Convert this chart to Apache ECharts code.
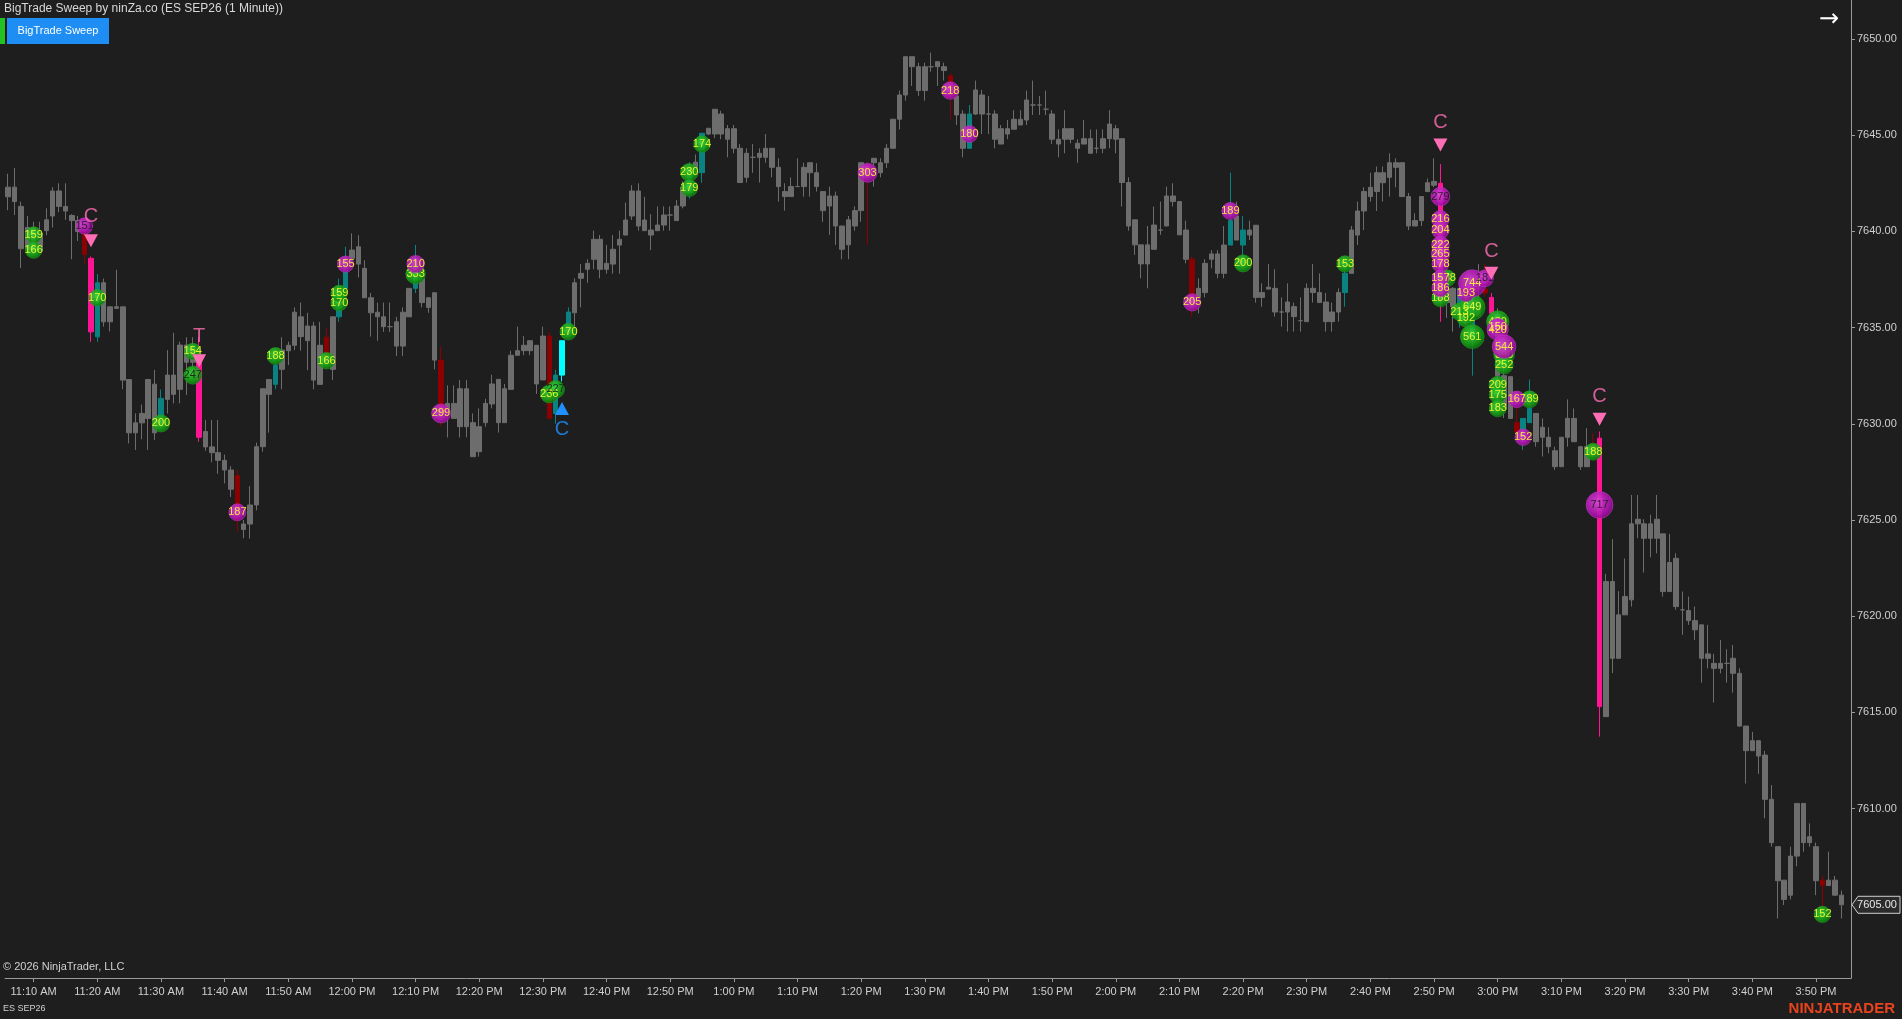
<!DOCTYPE html>
<html><head><meta charset="utf-8">
<script src="https://cdn.jsdelivr.net/npm/echarts@6.0.0/dist/echarts.min.js"></script>
<style>html,body{margin:0;padding:0;background:#1e1e1e;overflow:hidden}#c{width:1902px;height:1019px}</style>
</head><body><div id="c"></div>
<script>
// ---------- DATA ----------
const title = 'BigTrade Sweep by ninZa.co (ES SEP26 (1 Minute))';
const firstBarMinute = 11 * 60 + 6; // 11:06 AM, one bar per minute
const priceTicks = [7605, 7610, 7615, 7620, 7625, 7630, 7635, 7640, 7645, 7650];
const lastPrice = 7605.00;
// [open, high, low, close]
const ohlc = [
[7641.8,7643.0,7641.1,7642.3],[7642.3,7643.3,7640.85,7641.55],[7641.3,7641.55,7638.1,7639.1],[7639.1,7640.8,7638.9,7640.2],[7640.2,7640.5,7638.8,7639.0],
[7639.0,7640.5,7638.9,7639.9],[7640.04,7641.2,7639.8,7640.6],[7640.8,7642.3,7640.2,7642.1],[7642.1,7642.5,7641.0,7641.3],[7641.3,7642.5,7640.6,7641.06],
[7640.83,7640.9,7638.55,7640.56],[7640.56,7640.8,7639.5,7640.0],[7639.9,7640.3,7638.3,7638.8],[7638.6,7638.7,7634.26,7634.78],[7634.52,7637.78,7634.26,7637.33],
[7637.33,7637.55,7635.05,7635.3],[7635.3,7636.08,7634.8,7636.08],[7636.08,7638.0,7636.0,7636.0],[7636.08,7636.08,7631.8,7632.27],[7632.3,7632.3,7628.98,7629.53],
[7629.53,7630.54,7628.64,7630.05],[7630.05,7631.0,7629.2,7630.54],[7630.28,7632.3,7628.64,7632.3],[7632.06,7632.8,7629.16,7629.53],[7630.37,7631.78,7629.85,7631.32],
[7631.27,7633.83,7630.54,7632.53],[7632.53,7634.73,7631.06,7631.53],[7631.79,7634.27,7631.06,7634.09],[7634.09,7634.5,7631.5,7633.2],[7633.2,7634.5,7632.5,7633.6],
[7633.48,7634.52,7629.07,7629.3],[7629.6,7630.2,7628.6,7628.8],[7628.8,7630.2,7628.0,7628.5],[7628.5,7630.2,7627.4,7628.1],[7628.1,7628.4,7626.9,7627.6],
[7627.6,7627.8,7626.2,7626.6],[7627.3,7627.6,7624.4,7625.0],[7624.79,7625.0,7624.05,7624.51],[7624.79,7626.76,7624.04,7625.78],[7625.78,7629.02,7625.5,7628.81],
[7628.81,7631.82,7628.55,7631.82],[7631.53,7632.3,7629.54,7632.3],[7632.05,7633.2,7631.8,7633.05],[7632.83,7634.5,7631.8,7633.83],[7633.8,7634.27,7633.05,7634.08],
[7634.08,7636.05,7633.83,7635.8],[7635.56,7636.3,7633.8,7634.53],[7634.32,7635.77,7632.79,7635.08],[7635.08,7635.3,7631.79,7632.27],[7632.05,7635.3,7632.05,7634.08],
[7634.5,7635.0,7633.0,7633.3],[7632.83,7635.56,7632.27,7635.56],[7635.56,7637.54,7635.3,7636.08],[7637.04,7639.2,7636.87,7638.0],[7638.6,7639.9,7638.3,7639.03],
[7639.2,7639.8,7637.6,7638.3],[7638.08,7638.5,7636.55,7636.55],[7636.55,7636.8,7634.53,7635.77],[7635.8,7636.3,7634.32,7635.56],[7635.56,7636.3,7634.78,7635.05],
[7635.05,7636.3,7634.78,7635.05],[7635.3,7635.56,7633.52,7634.04],[7634.04,7636.05,7633.52,7635.8],[7635.56,7637.04,7635.56,7637.04],[7637.04,7639.3,7636.8,7637.56],
[7637.54,7637.8,7636.05,7636.3],[7636.55,7636.55,7635.77,7636.05],[7636.81,7636.81,7632.83,7633.31],[7633.31,7634.0,7629.85,7630.54],[7630.54,7632.0,7629.29,7631.06],
[7631.06,7632.0,7630.28,7630.28],[7629.85,7632.27,7629.29,7631.82],[7631.82,7632.27,7629.3,7629.85],[7630.06,7630.54,7628.29,7628.29],[7628.55,7630.8,7628.29,7629.85],
[7630.06,7631.3,7629.85,7631.06],[7631.03,7632.55,7630.8,7632.07],[7632.31,7632.31,7629.54,7630.06],[7630.06,7632.07,7630.06,7631.82],[7631.79,7633.8,7631.79,7633.56],
[7633.56,7635.05,7633.56,7633.8],[7633.8,7634.56,7633.56,7634.08],[7633.8,7634.32,7633.56,7634.32],[7634.08,7634.08,7631.55,7632.07],[7632.28,7635.05,7632.28,7634.56],
[7634.56,7634.79,7630.28,7630.28],[7630.54,7632.8,7630.0,7632.53],[7632.53,7634.32,7632.2,7634.32],[7635.05,7636.05,7634.79,7635.81],[7635.77,7637.56,7635.05,7637.33],
[7637.56,7638.3,7636.05,7637.82],[7638.03,7638.55,7637.33,7638.34],[7638.55,7640.04,7638.03,7639.59],[7639.59,7639.81,7637.56,7638.03],[7638.03,7639.29,7637.8,7638.34],
[7638.3,7639.81,7637.8,7639.07],[7639.29,7640.04,7637.8,7639.59],[7639.81,7641.5,7639.81,7640.59],[7640.8,7642.4,7640.6,7642.1],[7642.1,7642.5,7640.04,7640.28],
[7640.04,7641.8,7640.04,7640.59],[7640.07,7640.9,7639.03,7639.81],[7640.04,7641.3,7640.04,7640.33],[7640.33,7641.3,7640.04,7640.85],[7640.85,7641.3,7640.04,7640.85],
[7640.56,7641.63,7640.56,7641.32],[7641.32,7642.6,7641.2,7642.3],[7642.0,7643.6,7641.7,7643.3],[7643.2,7644.0,7642.9,7643.6],[7643.05,7645.1,7642.53,7645.1],
[7645.06,7645.36,7645.0,7645.36],[7645.06,7646.35,7644.84,7646.35],[7646.1,7646.27,7644.79,7645.06],[7645.34,7645.53,7643.85,7644.79],[7644.32,7645.53,7644.06,7645.34],
[7644.32,7644.54,7642.54,7642.54],[7642.81,7644.32,7642.54,7644.06],[7643.85,7644.54,7643.05,7643.85],[7643.85,7644.32,7642.54,7644.06],[7644.32,7645.06,7643.57,7643.85],
[7644.32,7644.32,7642.81,7643.33],[7643.33,7643.8,7641.55,7642.33],[7642.07,7642.5,7641.08,7641.81],[7641.81,7642.8,7641.81,7642.33],[7642.33,7643.8,7642.33,7642.33],
[7642.33,7643.57,7641.81,7643.33],[7643.57,7643.57,7641.81,7643.05],[7643.05,7643.54,7642.07,7642.33],[7642.07,7642.07,7640.5,7641.08],[7641.32,7642.33,7639.82,7641.84],
[7641.84,7642.07,7639.3,7640.28],[7640.28,7640.28,7638.55,7639.07],[7639.3,7640.8,7638.55,7640.6],[7640.28,7641.3,7640.04,7641.08],[7641.08,7643.57,7640.5,7643.57],
[7643.4,7643.6,7639.3,7643.0],[7643.57,7643.8,7642.33,7643.8],[7643.57,7643.8,7642.81,7643.05],[7643.57,7644.54,7643.3,7644.32],[7644.32,7645.83,7644.32,7645.83],
[7645.83,7647.32,7645.3,7647.09],[7647.09,7649.08,7646.8,7649.08],[7649.08,7649.08,7647.56,7648.56],[7648.56,7648.77,7647.04,7647.32],[7647.32,7648.77,7646.8,7648.56],
[7648.56,7649.29,7648.3,7648.56],[7648.56,7648.82,7647.56,7648.82],[7648.56,7648.77,7647.84,7648.36],[7648.08,7648.2,7645.83,7647.0],[7647.04,7647.35,7645.53,7646.05],
[7646.1,7646.3,7643.85,7644.32],[7644.32,7646.57,7644.32,7646.1],[7646.1,7647.84,7646.05,7647.35],[7647.09,7647.35,7645.06,7646.1],[7646.1,7647.04,7645.06,7646.1],
[7646.1,7646.3,7644.32,7644.79],[7644.54,7645.53,7644.54,7645.34],[7645.34,7645.79,7644.79,7645.06],[7645.31,7646.3,7645.31,7645.83],[7645.83,7646.3,7645.53,7645.53],
[7645.79,7647.32,7645.53,7646.83],[7646.57,7647.84,7646.05,7646.57],[7646.57,7647.04,7646.05,7646.57],[7646.35,7647.32,7646.05,7646.35],[7646.1,7646.3,7644.54,7644.79],
[7644.79,7645.3,7643.85,7644.54],[7644.79,7646.3,7644.06,7645.34],[7645.34,7645.34,7644.58,7644.79],[7644.58,7644.79,7643.57,7644.32],[7644.54,7645.79,7644.54,7644.82],
[7644.82,7645.3,7644.06,7644.06],[7644.32,7645.3,7644.06,7644.32],[7644.32,7645.3,7644.06,7644.82],[7644.82,7646.3,7644.32,7645.58],[7645.34,7645.53,7644.06,7644.79],
[7644.82,7644.82,7641.29,7642.54],[7642.54,7642.81,7640.04,7640.28],[7640.6,7640.6,7638.78,7639.3],[7639.3,7639.3,7637.56,7638.31],[7638.31,7640.28,7637.04,7639.3],
[7639.07,7641.29,7639.07,7640.33],[7640.07,7641.55,7639.82,7640.07],[7640.28,7642.33,7640.28,7641.84],[7641.84,7642.5,7641.29,7641.55],[7641.55,7641.55,7639.82,7639.82],
[7640.07,7640.56,7638.34,7638.55],[7638.55,7638.69,7635.57,7636.61],[7636.61,7637.56,7635.74,7637.04],[7636.82,7638.55,7636.57,7638.34],[7638.55,7639.03,7638.08,7638.83],
[7638.83,7639.03,7637.56,7637.82],[7637.82,7640.28,7637.56,7639.29],[7639.29,7643.05,7639.29,7640.56],[7640.8,7641.55,7639.55,7639.55],[7639.29,7640.8,7638.34,7640.07],
[7640.07,7640.56,7639.55,7639.81],[7640.32,7640.32,7636.3,7636.57],[7636.82,7637.3,7636.09,7636.57],[7637.0,7638.3,7637.0,7637.1],[7637.04,7638.03,7635.57,7635.81],
[7635.81,7636.57,7635.05,7635.81],[7635.81,7637.3,7634.79,7636.33],[7636.09,7636.3,7634.79,7635.57],[7635.36,7636.57,7634.79,7635.36],[7635.31,7637.3,7635.31,7637.04],
[7637.04,7638.3,7636.3,7636.82],[7636.82,7637.82,7636.3,7636.3],[7636.33,7636.8,7634.79,7635.31],[7635.31,7636.3,7634.79,7635.81],[7635.81,7637.04,7635.31,7636.82],
[7636.82,7638.34,7636.09,7637.82],[7637.82,7640.28,7637.82,7640.07],[7639.81,7641.55,7639.29,7641.06],[7641.06,7642.29,7640.07,7642.07],[7641.81,7643.05,7641.55,7642.29],
[7642.07,7643.37,7641.06,7643.05],[7643.05,7643.37,7641.55,7642.53],[7642.81,7644.06,7641.81,7643.57],[7643.57,7643.8,7642.29,7643.33],[7643.57,7643.57,7641.81,7641.81],
[7641.81,7642.0,7640.07,7640.28],[7640.28,7640.94,7640.28,7640.56],[7640.56,7641.81,7640.28,7641.81],[7642.07,7642.75,7642.07,7642.53],[7642.4,7643.8,7642.3,7642.6],
[7642.5,7643.5,7635.3,7636.5],[7637.0,7637.8,7635.5,7636.3],[7637.04,7637.1,7634.79,7636.09],[7636.26,7637.3,7635.0,7637.04],[7636.3,7637.0,7635.0,7635.5],
[7634.5,7636.5,7632.5,7635.8],[7636.4,7638.3,7635.5,7635.6],[7637.0,7638.3,7636.6,7636.8],[7636.57,7636.8,7635.5,7635.74],[7635.7,7636.0,7632.0,7632.5],
[7632.5,7633.0,7630.3,7630.8],[7632.45,7632.45,7630.28,7630.28],[7630.06,7631.27,7629.5,7629.59],[7629.68,7630.28,7628.64,7630.28],[7630.06,7632.3,7630.06,7630.8],
[7630.54,7630.54,7628.81,7629.07],[7629.3,7630.28,7628.3,7629.82],[7629.3,7629.82,7628.47,7628.81],[7628.6,7628.81,7627.6,7627.77],[7627.77,7629.3,7627.77,7629.3],
[7629.3,7631.27,7628.81,7630.28],[7630.28,7630.8,7629.07,7629.07],[7628.81,7628.81,7627.6,7627.77],[7627.77,7629.77,7627.77,7628.81],[7628.9,7629.5,7628.2,7628.5],
[7629.25,7629.6,7613.74,7615.3],[7614.78,7622.2,7614.78,7621.8],[7621.8,7624.0,7617.04,7617.81],[7617.81,7621.3,7617.81,7620.07],[7620.07,7623.0,7620.07,7621.02],
[7620.85,7626.3,7620.5,7624.8],[7624.8,7626.3,7624.05,7625.04],[7624.8,7625.04,7622.27,7624.05],[7624.05,7625.27,7623.06,7624.8],[7625.04,7626.3,7623.27,7624.05],
[7624.28,7624.28,7621.02,7621.28],[7621.28,7624.28,7621.28,7622.79],[7623.01,7623.27,7620.33,7620.5],[7620.33,7621.28,7619.03,7620.33],[7620.29,7621.02,7619.55,7619.77],
[7619.77,7620.5,7618.77,7619.29],[7619.55,7619.55,7616.55,7617.81],[7617.81,7619.55,7617.29,7618.04],[7617.55,7618.04,7615.51,7617.29],[7617.29,7618.77,7617.03,7617.55],
[7617.55,7618.28,7616.55,7617.55],[7617.81,7618.5,7616.03,7617.03],[7617.03,7617.29,7614.26,7614.29],[7614.29,7614.29,7611.3,7613.01],[7613.01,7613.99,7613.01,7613.53],
[7613.53,7613.53,7611.8,7612.73],[7612.78,7613.0,7609.5,7610.48],[7610.48,7611.22,7608.02,7608.23],[7608.02,7608.02,7604.29,7606.25],[7606.28,7606.28,7604.99,7605.28],
[7605.5,7608.02,7605.28,7607.53],[7607.53,7610.27,7607.0,7610.27],[7610.27,7610.27,7607.76,7608.23],[7608.23,7609.23,7608.02,7608.54],[7608.02,7608.23,7605.5,7606.25],
[7606.28,7606.5,7604.6,7606.0],[7606.0,7607.76,7606.0,7606.28],[7606.28,7606.5,7605.5,7605.5],[7605.5,7605.74,7604.29,7605.0]
];
// bar classes (bar indexes)
const buySweepBars = [14,24,42,52,53,64,86,88,107,109,151,192,194,210,228,230,238,239];
const strongBuyBars = [87];
const sellSweepBars = [12,36,50,68,85,135,148,186,232,237,249,285];
const sellSignalBars = [13,30,225,233,250];
// bubbles: [bar, price, volume, isSignalBubble]
const buyBubbles = [
[4,7639.81,159,0],[4,7639.03,166,0],[14,7636.55,170,0],[24,7630.02,200,0],[29,7633.76,154,0],[29,7632.53,247,1],
[42,7633.52,188,0],[50,7633.28,166,0],[52,7636.3,170,0],[52,7636.78,159,0],[64,7637.78,333,0],[85,7631.55,236,0],
[86,7631.79,227,1],[88,7634.79,170,0],[107,7643.07,230,0],[107,7642.25,179,0],[109,7644.54,174,0],[194,7638.34,200,0],
[210,7638.31,153,0],[225,7636.52,188,0],[226,7637.56,188,0],[228,7635.83,213,0],[229,7635.48,192,0],[230,7636.05,649,0],
[230,7634.53,561,0],[234,7635.3,480,0],[235,7633.6,390,0],[234,7632.02,209,0],[234,7631.5,175,0],[234,7630.8,183,0],
[235,7633.06,252,0],[239,7631.27,189,0],[249,7628.55,188,0],[285,7604.5,152,0]
];
const sellBubbles = [
[12,7640.28,151,1],[36,7625.4,187,0],[53,7638.3,155,0],[64,7638.3,210,0],[68,7630.54,299,0],[135,7643.05,303,0],
[148,7647.32,218,0],[151,7645.06,180,0],[186,7636.31,205,0],[192,7641.06,189,0],[225,7641.81,279,1],[225,7640.63,216,0],
[225,7640.07,204,0],[225,7639.29,222,0],[225,7638.83,265,0],[225,7638.31,178,0],[225,7637.56,157,0],[225,7637.04,186,0],
[229,7636.8,193,0],[230,7637.3,744,0],[232,7637.56,181,1],[234,7634.9,420,0],[234,7635.05,150,0],[235,7634.01,544,0],
[237,7631.27,167,0],[238,7629.3,152,0],[250,7625.78,717,1]
];
// signals: [bar, markerPrice, letterPrice, letter]
const sellSignals = [[13,7639.52,7640.8,'C'],[30,7633.28,7634.53,'T'],[225,7644.49,7645.65,'C'],[233,7637.82,7638.95,'C'],[250,7630.23,7631.41,'C']];
const buySignals = [[87,7630.8,7629.68,'C']];

// ---------- CHART ----------
const FONT = '"Liberation Sans", Arial, sans-serif';
const GRAY = '#6d6d6d', TEAL = '#0a8282', CYAN = '#00ffff', DRED = '#8b0000', PINK = '#ff1493';
const SIGPINK = '#ff6eb4', SIGBLUE = '#1e90ff';
const N = ohlc.length;
const cats = [];
for (let i = 0; i < N + 1; i++) {
  const t = firstBarMinute + i, h = Math.floor(t / 60), m = t % 60;
  cats.push({h, m, label: (((h + 11) % 12) + 1) + ':' + String(m).padStart(2, '0') + ' ' + (h < 12 ? 'AM' : 'PM')});
}
const showTick = (idx) => cats[idx] && cats[idx].m % 10 === 0 && idx < N;
function barColor(i) {
  if (buySweepBars.includes(i)) return TEAL;
  if (strongBuyBars.includes(i)) return CYAN;
  if (sellSweepBars.includes(i)) return DRED;
  if (sellSignalBars.includes(i)) return PINK;
  return null;
}
const candleData = ohlc.map((d, i) => {
  const o = d[0], c = d[3], lo = Math.min(d[2], o, c), hi = Math.max(d[1], o, c);
  const item = {value: [o, c, lo, hi]};
  const col = barColor(i);
  if (col) item.itemStyle = {color: col, color0: col, borderColor: col, borderColor0: col};
  return item;
});
function bubbleItems(list) {
  return list.map(b => ({value: [b[0], b[1], b[2]], label: {color: b[3] ? '#1a1a1a' : '#ffff33'}}));
}
const greenFill = new echarts.graphic.RadialGradient(0.42, 0.4, 0.65, [{offset: 0, color: '#3fdc3f'}, {offset: 0.7, color: '#129a12'}, {offset: 1, color: '#0a5f0a'}]);
const magFill = new echarts.graphic.RadialGradient(0.42, 0.4, 0.65, [{offset: 0, color: '#e24ae2'}, {offset: 0.7, color: '#b012b0'}, {offset: 1, color: '#780a78'}]);
const bubbleSize = v => 13.5 + v[2] * 0.0185;
const bubbleLabel = {show: true, position: 'inside', formatter: p => p.value[2], fontSize: 11, fontFamily: FONT};

const option = {
  backgroundColor: '#1e1e1e',
  animation: false,
  grid: {left: 5, top: 0, width: 1846, height: 978},
  xAxis: {
    type: 'category', data: cats.map(c => c.label), boundaryGap: true,
    axisLine: {show: true, lineStyle: {color: '#9a9a9a', width: 1}},
    axisTick: {show: true, alignWithLabel: true, interval: (i) => showTick(i), length: 4, lineStyle: {color: '#9a9a9a'}},
    axisLabel: {interval: (i) => showTick(i), color: '#cfcfcf', fontSize: 11, fontFamily: FONT, margin: 8},
    splitLine: {show: false}
  },
  yAxis: {
    type: 'value', position: 'right', min: 7601.195, max: 7652.027, scale: true,
    axisLine: {show: true, lineStyle: {color: '#9a9a9a', width: 1}},
    axisTick: {show: true, length: 4, customValues: priceTicks, lineStyle: {color: '#9a9a9a'}},
    axisLabel: {customValues: priceTicks, formatter: v => v.toFixed(2), color: '#cfcfcf', fontSize: 11, fontFamily: FONT, margin: 6},
    splitLine: {show: false}
  },
  series: [
    {type: 'candlestick', data: candleData, barWidth: 5, z: 2,
     itemStyle: {color: GRAY, color0: GRAY, borderColor: GRAY, borderColor0: GRAY, borderWidth: 1}},
    {type: 'scatter', data: bubbleItems(buyBubbles), symbolSize: bubbleSize, z: 3,
     itemStyle: {color: greenFill, opacity: 0.88, borderColor: 'rgba(40,160,40,0.6)', borderWidth: 1}, label: bubbleLabel},
    {type: 'scatter', data: bubbleItems(sellBubbles), symbolSize: bubbleSize, z: 4,
     itemStyle: {color: magFill, opacity: 0.88, borderColor: 'rgba(200,60,200,0.6)', borderWidth: 1}, label: bubbleLabel},
    {type: 'scatter', data: sellSignals.map(s => [s[0], s[1]]), symbol: 'triangle', symbolRotate: 180, symbolSize: [14, 13], z: 5,
     itemStyle: {color: SIGPINK, opacity: 1}},
    {type: 'scatter', data: buySignals.map(s => [s[0], s[1]]), symbol: 'triangle', symbolSize: [14, 13], z: 5,
     itemStyle: {color: SIGBLUE, opacity: 1}},
    {type: 'scatter', data: sellSignals.map(s => [s[0], s[2], s[3]]), symbolSize: 1, z: 5, itemStyle: {color: 'rgba(0,0,0,0)'},
     label: {show: true, position: 'inside', formatter: p => p.value[2], color: SIGPINK, fontSize: 20, fontFamily: FONT}},
    {type: 'scatter', data: buySignals.map(s => [s[0], s[2], s[3]]), symbolSize: 1, z: 5, itemStyle: {color: 'rgba(0,0,0,0)'},
     label: {show: true, position: 'inside', formatter: p => p.value[2], color: SIGBLUE, fontSize: 20, fontFamily: FONT}}
  ]
};
const chart = echarts.init(document.getElementById('c'), null, {renderer: 'canvas'});
chart.setOption(option);

const yLast = chart.convertToPixel({yAxisIndex: 0}, lastPrice);
const axisX = 1851;
chart.setOption({graphic: [
  {type: 'text', left: 4, top: 3, style: {text: title, fill: '#d8d8d8', font: '12px ' + FONT}},
  {type: 'rect', shape: {x: 0, y: 18, width: 5, height: 26}, style: {fill: '#22c222'}},
  {type: 'rect', shape: {x: 7, y: 18, width: 102, height: 26}, style: {fill: '#1e8ef5'}},
  {type: 'text', x: 58, y: 31, style: {text: 'BigTrade Sweep', fill: '#ffffff', font: '11px ' + FONT, align: 'center', verticalAlign: 'middle'}},
  {type: 'text', x: 1829, y: 20, style: {text: '\u2192', fill: '#ffffff', font: '24px "DejaVu Sans", sans-serif', align: 'center', verticalAlign: 'middle'}},
  {type: 'text', x: 3, y: 967, style: {text: '\u00a9 2026 NinjaTrader, LLC', fill: '#d0d0d0', font: '11px ' + FONT, verticalAlign: 'middle'}},
  {type: 'text', x: 3, y: 1009, style: {text: 'ES SEP26', fill: '#d0d0d0', font: '9px ' + FONT, verticalAlign: 'middle'}},
  {type: 'text', x: 1895, y: 1009, style: {text: 'NINJATRADER', fill: '#e8431c', font: 'bold 15px ' + FONT, align: 'right', verticalAlign: 'middle'}},
  {type: 'polygon', z: 100, shape: {points: [[axisX + 1, yLast], [axisX + 7, yLast - 8.5], [1900, yLast - 8.5], [1900, yLast + 8.5], [axisX + 7, yLast + 8.5]]},
   style: {fill: '#2b2b2b', stroke: '#d0d0d0', lineWidth: 1}},
  {type: 'text', z: 101, x: 1877, y: yLast + 0.5, style: {text: lastPrice.toFixed(2), fill: '#e8e8e8', font: '11px ' + FONT, align: 'center', verticalAlign: 'middle'}}
]});
</script></body></html>
